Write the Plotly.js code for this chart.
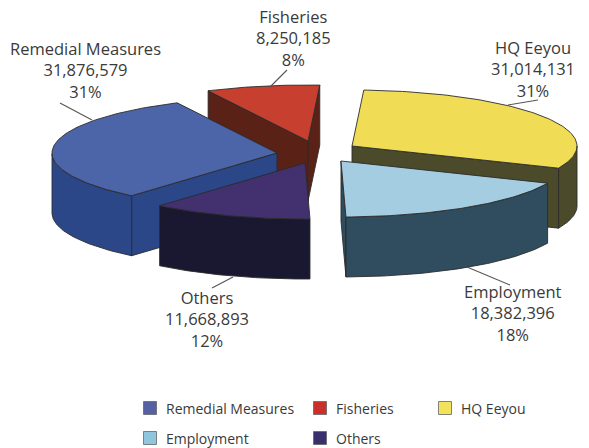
<!DOCTYPE html>
<html>
<head>
<meta charset="utf-8">
<script src="https://cdn.plot.ly/plotly-3.0.1.min.js"></script>
<style>html,body{margin:0;padding:0;background:#fff}#c{width:589px;height:448px}</style>
</head>
<body>
<div id="c"></div>
<script>
// Data (clockwise order, starting at the top)
const categories = ["HQ Eeyou", "Employment", "Others", "Remedial Measures", "Fisheries"];
const amounts = [31014131, 18382396, 11668893, 31876579, 8250185];
const amountLabels = ["31,014,131", "18,382,396", "11,668,893", "31,876,579", "8,250,185"];
const percentLabels = ["31%", "18%", "12%", "31%", "8%"];

// Styles
const topColors = ["#f0dc55", "#a5cde2", "#42306f", "#4c64a8", "#c63f2f"];
const wallColors = ["#4b4b2c", "#2f4d5e", "#1a1730", "#2b4788", "#5a2116"];
const keyColors = ["#f2e35a", "#8fc6dd", "#3a2f6c", "#5560a5", "#c92f2b"];
const outline = "#2b2b2b";
const textColor = "#3a3a3a";
const fontFamily = "'Open Sans','Noto Sans',sans-serif";

// Projection of the exploded 3D pie
const rx = 225, ry = 56, depth = 60, startAngle = 87;
const explodedCentres = [[352,146],[341,161],[305,163],[277,153],[308,141]];
const drawOrder = [4, 3, 0, 1, 2];

// Label layout
const labelAnchors = [[533,69],[513,313],[207,319],[85,70],[293,38]];
const leaderLines = [[[538,100],[508,105]],[[467,267],[510,285]],[[233,277],[212,288]],[[60,103],[92,120]],[[287,70],[270,87]]];
const keyOrder = [3, 4, 0, 1, 2];
const keySpots = [[150,408],[320,408],[445,408],[150,438],[320,438]];

const total = amounts.reduce((a,b)=>a+b,0);
const traces = [];
const rad = d => d*Math.PI/180;

function poly(pts, color, name){
  traces.push({type:"scatter", mode:"lines", x:pts.map(p=>p[0]), y:pts.map(p=>p[1]),
    fill:"toself", fillcolor:color, line:{color:outline,width:0.9}, hoverinfo:"text", text:name, showlegend:false});
}

const spans = [];
let cursor = startAngle;
amounts.forEach(v=>{ const sweep = v/total*360; spans.push([cursor, cursor-sweep]); cursor -= sweep; });

drawOrder.forEach(i=>{
  const [cx,cy] = explodedCentres[i];
  const [a0,a1] = spans[i];
  const at = d => [cx+rx*Math.cos(rad(d)), cy-ry*Math.sin(rad(d))];
  const down = p => [p[0],p[1]+depth];
  const mid = at((a0+a1)/2);
  const interior = [(mid[0]+cx)/2,(mid[1]+cy)/2];
  // radial walls that face the viewer
  [a0,a1].forEach(edge=>{
    const e = at(edge);
    const dx = e[0]-cx, dy = e[1]-cy;
    const lineY = cy + dy/dx*(interior[0]-cx);
    if(interior[1] < lineY) poly([[cx,cy],e,down(e),[cx,cy+depth],[cx,cy]], wallColors[i], categories[i]);
  });
  // front part of the rim
  const rim = [];
  for(let d=a0; d>=a1; d-=1){ if(Math.sin(rad(d))<=0) rim.push(at(d)); }
  if(Math.sin(rad(a1))<=0) rim.push(at(a1));
  if(rim.length>1) poly(rim.concat(rim.slice().reverse().map(down)).concat([rim[0]]), wallColors[i], categories[i]);
  // top face
  const top = [[cx,cy]];
  for(let d=a0; d>a1; d-=1) top.push(at(d));
  top.push(at(a1)); top.push([cx,cy]);
  poly(top, topColors[i], categories[i]);
});

leaderLines.forEach(l=>{
  traces.push({type:"scatter", mode:"lines", x:l.map(p=>p[0]), y:l.map(p=>p[1]),
    line:{color:"#555",width:1.1}, hoverinfo:"skip", showlegend:false});
});

// colour key
keyOrder.forEach((i,k)=>{
  traces.push({type:"scatter", mode:"markers", x:[keySpots[k][0]], y:[keySpots[k][1]],
    marker:{symbol:"square", size:13, color:keyColors[i], line:{color:"#666",width:0.8}},
    hoverinfo:"skip", showlegend:false});
});

const annotations = [];
categories.forEach((c,i)=>{
  annotations.push({x:labelAnchors[i][0], y:labelAnchors[i][1],
    text:[c, amountLabels[i], percentLabels[i]].join("<br>"), showarrow:false, align:"center",
    xanchor:"center", yanchor:"middle", font:{family:fontFamily,size:16.5,color:textColor}});
});
keyOrder.forEach((i,k)=>{
  annotations.push({x:keySpots[k][0]+14, y:keySpots[k][1], text:categories[i], showarrow:false,
    xanchor:"left", yanchor:"middle", font:{family:fontFamily,size:14,color:textColor}});
});

const axis = {visible:false, fixedrange:true, showgrid:false, zeroline:false};
Plotly.newPlot("c", traces, {
  width:589, height:448, margin:{l:0,r:0,t:0,b:0}, showlegend:false,
  paper_bgcolor:"#fff", plot_bgcolor:"#fff",
  xaxis:Object.assign({range:[0,589]},axis),
  yaxis:Object.assign({range:[448,0]},axis),
  annotations
}, {displayModeBar:false, staticPlot:true});
</script>
</body>
</html>
